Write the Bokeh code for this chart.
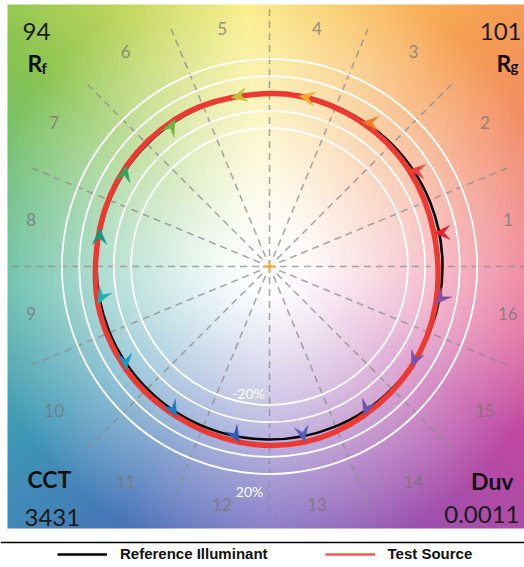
import numpy as np
from bokeh.plotting import figure
from bokeh.models import Range1d, Span, Legend, LegendItem
from bokeh.core.properties import value
from bokeh.embed import file_html
from bokeh.resources import INLINE

# ---------------- data ----------------
hue_bins = list(range(1, 17))
bin_labels = [str(b) for b in hue_bins]
# test source relative to reference (reference = unit circle)
test_chroma_ratio = [0.97, 0.98, 0.99, 1.00, 1.00, 1.01, 1.01, 1.005,
                     1.015, 1.02, 1.02, 1.03, 1.035, 1.02, 1.005, 0.985]
test_hue_shift_deg = [0.3, 1.0, 1.0, 1.5, 1.5, -1.0, -1.5, -1.5,
                      1.0, 2.0, 2.0, 1.5, 0.0, -1.5, -1.5, -1.5]
bin_colors = ["#e8202a", "#e8403a", "#f07a28", "#f5a82a", "#c8c038", "#6cb444",
              "#30a860", "#17967a", "#1cb0b0", "#1a9ac0", "#1e78c0", "#2e5cae",
              "#5a5cb4", "#6a55ac", "#7656a8", "#8450a0"]
ring_levels = [0.8, 0.9, 1.1, 1.2]
ring_labels = ["-20%", "20%"]
rf_value = "94"
rg_value = "101"
cct_value = "3431"
duv_value = "0.0011"

# ---------------- geometry helpers ----------------
S = 173.0            # pixels per unit (reference radius)
W, H = 524, 567
CX, CY = 269.0, 266.0  # center in pixels


def dx(px):
    return (px - CX) / S


def dy(py):
    return (CY - py) / S


p = figure(width=W, height=H, output_backend="svg", toolbar_location=None,
           x_range=Range1d(-CX / S, (W - CX) / S),
           y_range=Range1d((CY - H) / S, CY / S),
           min_border=0, outline_line_color=None)
p.axis.visible = False
p.grid.visible = False
p.background_fill_color = "white"
p.border_fill_color = "white"

# ---------------- background colour wheel ----------------
half = 262.0 / S
N = 320
g = np.linspace(-half, half, N)
X, Y = np.meshgrid(g, g)
R = np.hypot(X, Y)
TH = np.degrees(np.arctan2(Y, X)) % 360
anchor_deg = np.array([0, 30, 50, 75, 95, 120, 140, 165, 185, 215, 240, 270, 300, 325, 345, 360])
anchor_rgb = np.array([
    [238, 122, 145],
    [243, 140, 100],
    [246, 160, 82],
    [250, 202, 102],
    [250, 236, 122],
    [192, 214, 92],
    [138, 196, 82],
    [104, 190, 130],
    [92, 186, 166],
    [62, 150, 182],
    [72, 116, 186],
    [122, 106, 192],
    [156, 82, 176],
    [190, 72, 162],
    [226, 102, 156],
    [238, 122, 145],
], dtype=float)
rgb = np.stack([np.interp(TH, anchor_deg, anchor_rgb[:, k]) for k in range(3)], -1)
sat = np.clip((R - 0.12) / 1.6, 0, 1) ** 1.15
col = 255.0 * (1 - sat[..., None]) + rgb * sat[..., None]
img = np.empty((N, N), dtype=np.uint32)
view = img.view(dtype=np.uint8).reshape((N, N, 4))
view[..., 0] = col[..., 0].astype(np.uint8)
view[..., 1] = col[..., 1].astype(np.uint8)
view[..., 2] = col[..., 2].astype(np.uint8)
view[..., 3] = 255
p.image_rgba(image=[img], x=-half, y=-half, dw=2 * half, dh=2 * half)

# ---------------- spokes ----------------
sp_ang = np.radians(np.arange(16) * 22.5)
p.segment(x0=list(0.06 * np.cos(sp_ang)), y0=list(0.06 * np.sin(sp_ang)),
          x1=list(1.51 * np.cos(sp_ang)), y1=list(1.51 * np.sin(sp_ang)),
          line_color="#8c8c8c", line_alpha=0.75, line_width=1.6, line_dash="7 5")

# ---------------- rings ----------------
p.circle(x=[0] * len(ring_levels), y=[0] * len(ring_levels), radius=ring_levels,
         fill_color=None, line_color="white", line_width=1.8)

# ---------------- reference circle ----------------
p.circle(x=[0], y=[0], radius=[1.0], fill_color=None, line_color="black", line_width=2.6)

# ---------------- test source ----------------
centers = np.radians(11.25 + 22.5 * np.arange(16))
shift = np.radians(np.array(test_hue_shift_deg))
ratio = np.array(test_chroma_ratio)
tx = ratio * np.cos(centers + shift)
ty = ratio * np.sin(centers + shift)
rx = np.cos(centers)
ry = np.sin(centers)

# smooth closed curve through the 16 test points (Catmull-Rom as cubic Bezier)
nxt = np.roll(np.arange(16), -1)
prv = np.roll(np.arange(16), 1)
nx2 = np.roll(np.arange(16), -2)
cx0 = tx + (tx[nxt] - tx[prv]) / 6.0
cy0 = ty + (ty[nxt] - ty[prv]) / 6.0
cx1 = tx[nxt] - (tx[nx2] - tx) / 6.0
cy1 = ty[nxt] - (ty[nx2] - ty) / 6.0
p.bezier(x0=list(tx), y0=list(ty), x1=list(tx[nxt]), y1=list(ty[nxt]),
         cx0=list(cx0), cy0=list(cy0), cx1=list(cx1), cy1=list(cy1),
         line_color="#ec3a33", line_width=5.5, line_cap="round")

# arrowheads
L = 16.0 / S
Wd = 7.0 / S
axs, ays = [], []
for i in range(16):
    vx, vy = tx[i] - rx[i], ty[i] - ry[i]
    n = np.hypot(vx, vy)
    ux, uy = vx / n, vy / n
    nx, ny = -uy, ux
    tipx, tipy = tx[i], ty[i]
    bx, by = tipx - L * ux, tipy - L * uy
    mx, my = tipx - 0.62 * L * ux, tipy - 0.62 * L * uy
    axs.append([tipx, bx + Wd * nx, mx, bx - Wd * nx])
    ays.append([tipy, by + Wd * ny, my, by - Wd * ny])
p.patches(xs=axs, ys=ays, fill_color=bin_colors, line_color=bin_colors, line_width=0.5)

# center cross
p.scatter(x=[0], y=[0], marker="cross", size=13, line_color="#f2a02a", line_width=2)

# ---------------- bin labels ----------------
near_axis = {1, 4, 5, 8, 9, 12, 13, 16}
lab_r = [(243.0 if b in near_axis else 259.0) / S for b in hue_bins]
p.text(x=[lab_r[i] * np.cos(centers[i]) for i in range(16)],
       y=[lab_r[i] * np.sin(centers[i]) for i in range(16)],
       text=bin_labels, text_font=value("Lato"), text_font_size="17px",
       text_color="#777777", text_alpha=0.8, text_align="center", text_baseline="middle")

# ring labels
p.text(x=[dx(248), dx(249)], y=[dy(393), dy(491)], text=ring_labels,
       text_font=value("Lato"), text_font_size="14px", text_color="white",
       text_align="center", text_baseline="middle")

# ---------------- metric texts ----------------
big = dict(text_font=value("Lato"), text_font_size="24px", text_color="#1a1a1a",
           text_baseline="alphabetic")
bold = dict(text_font=value("Lato"), text_font_size="23px", text_color="#111111",
            text_font_style="bold", text_baseline="alphabetic")
sub = dict(text_font=value("Lato"), text_font_size="15px", text_color="#111111",
           text_font_style="bold", text_baseline="alphabetic")

p.text(x=[dx(22)], y=[dy(31)], text=[rf_value], text_align="left", **big)
p.text(x=[dx(27)], y=[dy(62)], text=["R"], text_align="left", **bold)
p.text(x=[dx(41)], y=[dy(67)], text=["f"], text_align="left", **sub)

p.text(x=[dx(521)], y=[dy(31)], text=[rg_value], text_align="right", **big)
p.text(x=[dx(496)], y=[dy(62)], text=["R"], text_align="left", **bold)
p.text(x=[dx(510)], y=[dy(65)], text=["g"], text_align="left", **sub)

p.text(x=[dx(27)], y=[dy(478)], text=["CCT"], text_align="left", **bold)
p.text(x=[dx(24)], y=[dy(517)], text=[cct_value], text_align="left", **big)

p.text(x=[dx(513)], y=[dy(480)], text=["Duv"], text_align="right", **bold)
p.text(x=[dx(519)], y=[dy(514)], text=[duv_value], text_align="right", **big)

# ---------------- separator + legend ----------------
p.add_layout(Span(location=dy(542), dimension="width", line_color="black", line_width=1.5))

far = 10.0
leg_ref = p.line(x=[far, far + 1], y=[far, far], line_color="black", line_width=2.5)
leg_test = p.line(x=[far, far + 1], y=[far, far], line_color="#f05a50", line_width=2.5)
legend = Legend(items=[LegendItem(label="Reference Illuminant", renderers=[leg_ref]),
                       LegendItem(label="Test Source", renderers=[leg_test])],
                orientation="horizontal", location=(57, 5),
                label_text_font="Liberation Sans", label_text_font_style="bold",
                label_text_font_size="15px", label_text_color="#111111",
                glyph_width=50, glyph_height=14, label_height=14,
                label_standoff=13, spacing=57, padding=0, margin=0,
                border_line_color=None, background_fill_alpha=0)
p.add_layout(legend)

open("out.html", "w").write(file_html(p, INLINE))
